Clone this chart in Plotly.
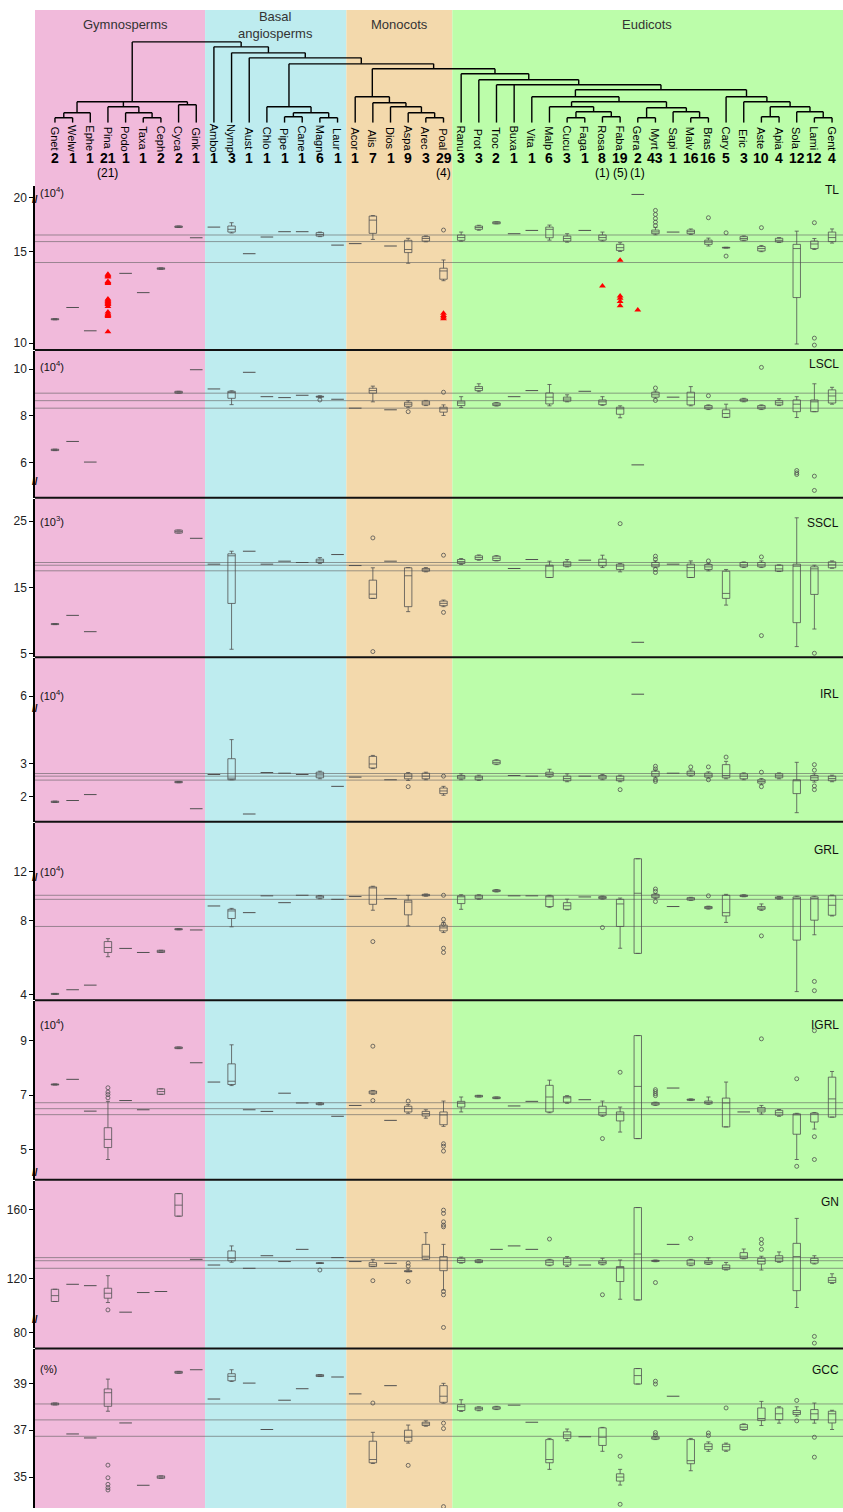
import plotly.graph_objects as go

# ---------------------------------------------------------------- data
TAXA = ["Gnet", "Welw", "Ephe", "Pina", "Podo", "Taxa", "Ceph", "Cyca", "Gink",
        "Ambo", "Nymp", "Aust", "Chlo", "Pipe", "Cane", "Magn", "Laur",
        "Acor", "Alis", "Dios", "Aspa", "Arec", "Poal",
        "Ranu", "Prot", "Troc", "Buxa", "Vita", "Malp", "Cucu", "Faga", "Rosa", "Faba",
        "Gera", "Myrt", "Sapi", "Malv", "Bras", "Cary", "Eric", "Aste", "Apia", "Sola",
        "Lami", "Gent"]
COUNTS = [2, 1, 1, 21, 1, 1, 2, 2, 1,
          1, 3, 1, 1, 1, 1, 6, 1,
          1, 7, 1, 9, 3, 29,
          3, 3, 2, 1, 1, 6, 3, 1, 8, 19, 2, 43, 1, 16, 16, 5, 3, 10, 4, 12, 12, 4]
IR_LOSS = {"Pina": 21, "Poal": 4, "Rosa": 1, "Faba": 5, "Gera": 1}

GROUP_NAMES = ["Gymnosperms", "Basal<br>angiosperms", "Monocots", "Eudicots"]
GROUP_FIRST = ["Gnet", "Ambo", "Acor", "Ranu"]
GROUP_LAST = ["Gink", "Laur", "Poal", "Gent"]
GROUP_COLORS = ["#F1BADB", "#BEECEF", "#F3D9AC", "#BCFDAA"]

# dendrogram: (node, children, height above the leaves)
TREE = [
    ("GW", ["Gnet", "Welw"], 5), ("Gnetales", ["GW", "Ephe"], 10),
    ("TC", ["Taxa", "Ceph"], 5), ("PTC", ["Podo", "TC"], 10), ("Conifers", ["Pina", "PTC"], 16),
    ("CG", ["Cyca", "Gink"], 18), ("Gymno", ["Gnetales", "Conifers", "CG"], 21),
    ("PC", ["Pipe", "Cane"], 6), ("ML", ["Magn", "Laur"], 5), ("PCML", ["PC", "ML"], 10),
    ("Magnoliids", ["Chlo", "PCML"], 16),
    ("AP", ["Arec", "Poal"], 5), ("M3", ["Aspa", "AP"], 10), ("M2", ["Dios", "M3"], 16),
    ("M1", ["Alis", "M2"], 20), ("Monocots", ["Acor", "M1"], 26),
    ("CF", ["Cucu", "Faga"], 5), ("RF", ["Rosa", "Faba"], 6), ("F1", ["CF", "RF"], 11),
    ("Fabids", ["Malp", "F1"], 16),
    ("GM", ["Gera", "Myrt"], 5), ("MB", ["Malv", "Bras"], 5), ("SMB", ["Sapi", "MB"], 11),
    ("Malvids", ["GM", "SMB"], 15),
    ("Rosids", ["Fabids", "Malvids"], 21), ("Superrosids", ["Vita", "Rosids"], 26),
    ("AA", ["Aste", "Apia"], 6), ("LG", ["Lami", "Gent"], 5), ("Lamiids", ["Sola", "LG"], 11),
    ("A1", ["AA", "Lamiids"], 16), ("Asterids", ["Eric", "A1"], 21),
    ("Superasterids", ["Cary", "Asterids"], 26),
    ("Core", ["Superrosids", "Superasterids"], 33), ("E2", ["Troc", "Buxa", "Core"], 38),
    ("E1", ["Prot", "E2"], 43), ("Eudicots", ["Ranu", "E1"], 49),
    ("N4", ["Monocots", "Eudicots"], 54), ("N3", ["Magnoliids", "N4"], 59),
    ("N2", ["Aust", "N3"], 65), ("N1", ["Nymp", "N2"], 70),
    ("Angio", ["Ambo", "N1"], 76), ("Seed", ["Gymno", "Angio"], 81),
]

N = None
# box stats per taxon: (lower whisker, q1, median, q3, upper whisker); float = single genome
TL_BOX = [(11.27, 11.27, 11.30, 11.33, 11.33), 11.94, 10.67, N, 13.80, 12.75,
          (14.02, 14.02, 14.06, 14.10, 14.10), (16.30, 16.30, 16.34, 16.38, 16.38), 15.74,
          16.32, (16.00, 16.05, 16.20, 16.38, 16.56), 14.87, 15.78, 16.07, 16.07,
          (15.80, 15.83, 15.92, 16.02, 16.05), 15.34,
          15.42, (15.65, 15.98, 16.70, 16.92, 16.95), 15.29, (14.35, 14.93, 15.10, 15.60, 15.71),
          (15.52, 15.56, 15.70, 15.80, 15.84), (13.40, 13.48, 13.93, 14.08, 14.53),
          (15.55, 15.60, 15.75, 15.89, 16.05), (16.15, 16.20, 16.30, 16.38, 16.42),
          (16.50, 16.50, 16.55, 16.61, 16.61), 15.96, 16.14, (15.61, 15.74, 16.20, 16.32, 16.43),
          (15.50, 15.56, 15.70, 15.83, 15.96), 16.14, (15.56, 15.61, 15.75, 15.89, 16.05),
          (14.99, 15.05, 15.20, 15.38, 15.47), 20.17, (15.90, 15.96, 16.06, 16.16, 16.30), 16.05,
          (15.92, 15.96, 16.07, 16.16, 16.22), (15.29, 15.38, 15.50, 15.61, 15.72),
          (15.18, 15.18, 15.20, 15.22, 15.22), (15.58, 15.61, 15.70, 15.80, 15.84),
          (14.98, 15.02, 15.15, 15.26, 15.32), (15.48, 15.51, 15.60, 15.71, 15.75),
          (9.95, 12.48, 15.15, 15.38, 16.10), (15.10, 15.15, 15.40, 15.56, 15.70),
          (15.45, 15.53, 15.75, 16.05, 16.22)]
TL_OUT = {"Poal": [16.16], "Myrt": [17.23, 17.01, 16.79, 16.59, 16.41], "Bras": [16.83],
          "Cary": [16.01, 14.74], "Aste": [16.29], "Lami": [16.56, 10.27, 9.89]}
TL_RED = {"Pina": [13.75, 13.70, 13.65, 13.60, 13.35, 13.30, 13.25, 12.40, 12.35, 12.30, 12.25,
                   12.20, 12.15, 12.10, 12.00, 11.70, 11.60, 11.55, 11.50, 11.45, 10.62],
          "Poal": [11.63, 11.50, 11.42, 11.33], "Rosa": [13.11],
          "Faba": [14.51, 12.57, 12.45, 12.27, 12.03], "Gera": [11.81]}
TL_REF = [15.89, 15.53, 14.39]

LSCL_BOX = [(6.52, 6.52, 6.55, 6.58, 6.58), 6.91, 6.03, N, N, N, N,
            (8.97, 8.97, 9.01, 9.05, 9.05), 9.97,
            9.15, (8.48, 8.75, 9.00, 9.05, 9.07), 9.86, 8.82, 8.78, 8.88,
            (8.78, 8.80, 8.82, 8.84, 8.86), 8.71,
            8.33, (8.60, 8.97, 9.08, 9.18, 9.27), 8.26, (8.35, 8.41, 8.50, 8.58, 8.65),
            (8.44, 8.47, 8.55, 8.63, 8.66), (8.02, 8.16, 8.30, 8.37, 8.47),
            (8.36, 8.44, 8.55, 8.63, 8.82), (9.03, 9.08, 9.17, 9.25, 9.37),
            (8.42, 8.44, 8.50, 8.55, 8.57), 8.82, 9.08, (8.43, 8.51, 8.80, 8.98, 9.34),
            (8.60, 8.63, 8.72, 8.80, 8.90), 9.05, (8.45, 8.48, 8.60, 8.68, 8.82),
            (7.92, 8.07, 8.30, 8.37, 8.43), 5.91, (8.76, 8.80, 8.90, 9.01, 9.06), 8.80,
            (8.43, 8.47, 8.80, 9.01, 9.25), (8.27, 8.30, 8.37, 8.44, 8.47),
            (7.93, 7.94, 8.10, 8.26, 8.50), (8.60, 8.63, 8.68, 8.72, 8.75),
            (8.27, 8.30, 8.37, 8.44, 8.47), (8.44, 8.47, 8.56, 8.65, 8.73),
            (7.93, 8.18, 8.50, 8.68, 8.82), (8.18, 8.18, 8.60, 8.68, 9.37),
            (8.50, 8.55, 8.85, 9.11, 9.22)]
LSCL_OUT = {"Magn": [8.68], "Aspa": [8.18], "Poal": [9.01], "Myrt": [9.19, 8.66], "Bras": [8.86],
            "Aste": [10.07], "Sola": [5.67, 5.57, 5.50], "Lami": [5.43, 4.82]}
LSCL_RED = {}
LSCL_REF = [8.97, 8.65, 8.33]

SSCL_BOX = [(9.40, 9.40, 9.48, 9.55, 9.55), 10.79, 8.33, N, N, N, N,
            (23.20, 23.20, 23.42, 23.65, 23.65), 22.41,
            18.51, (5.68, 12.59, 19.77, 20.07, 20.46), 20.46, 18.51, 18.96, 18.76,
            (18.60, 18.76, 19.00, 19.26, 19.50), 19.96,
            18.30, (13.35, 13.35, 13.99, 16.10, 17.96), 18.96, (11.35, 12.10, 16.76, 17.96, 18.00),
            (17.35, 17.45, 17.65, 17.86, 18.00), (12.10, 12.25, 12.60, 12.94, 13.10),
            (18.46, 18.61, 18.90, 19.21, 19.36), (19.10, 19.21, 19.50, 19.77, 19.90),
            (19.00, 19.06, 19.40, 19.71, 19.80), 17.86, 19.21, (16.50, 16.50, 18.20, 18.35, 18.96),
            (18.10, 18.20, 18.50, 18.86, 19.20), 19.11, (18.00, 18.26, 18.80, 19.26, 19.86),
            (17.35, 17.71, 18.20, 18.51, 18.60), 6.73, (18.00, 18.11, 18.40, 18.76, 19.00), 18.51,
            (16.50, 16.50, 18.00, 18.51, 19.00), (17.50, 17.71, 18.10, 18.46, 18.60),
            (12.34, 13.35, 14.10, 17.45, 17.71), (18.00, 18.11, 18.40, 18.76, 18.85),
            (18.00, 18.11, 18.40, 18.76, 19.00), (17.40, 17.45, 17.80, 18.35, 18.40),
            (6.08, 9.69, 18.20, 18.51, 25.50), (8.73, 13.95, 17.80, 18.11, 18.35),
            (17.90, 17.96, 18.40, 18.86, 19.00)]
SSCL_OUT = {"Alis": [22.47, 5.33], "Poal": [19.86, 11.24], "Faba": [24.62],
            "Myrt": [19.71, 19.26, 17.71, 17.26], "Bras": [19.00], "Aste": [19.60, 7.74],
            "Lami": [5.08]}
SSCL_RED = {}
SSCL_REF = [18.76, 18.35, 17.51]

IRL_BOX = [(1.83, 1.83, 1.85, 1.87, 1.87), 1.89, 2.07, N, N, N, N,
           (2.43, 2.43, 2.45, 2.47, 2.47), 1.64,
           2.68, (2.52, 2.52, 2.57, 3.16, 3.74), 1.48, 2.74, 2.72, 2.68,
           (2.55, 2.58, 2.67, 2.75, 2.78), 2.32,
           2.60, (2.86, 2.88, 3.00, 3.23, 3.26), 2.52, (2.50, 2.55, 2.63, 2.70, 2.74),
           (2.52, 2.55, 2.63, 2.72, 2.75), (2.05, 2.10, 2.18, 2.27, 2.32),
           (2.52, 2.55, 2.60, 2.65, 2.70), (2.50, 2.52, 2.58, 2.63, 2.66),
           (2.98, 3.00, 3.05, 3.11, 3.13), 2.65, 2.63, (2.60, 2.63, 2.68, 2.75, 2.84),
           (2.46, 2.49, 2.56, 2.63, 2.70), 2.63, (2.52, 2.55, 2.60, 2.65, 2.68),
           (2.46, 2.49, 2.55, 2.63, 2.66), 6.06, (2.58, 2.63, 2.70, 2.78, 2.82), 2.72,
           (2.63, 2.66, 2.72, 2.78, 2.82), (2.57, 2.60, 2.66, 2.72, 2.76),
           (2.55, 2.58, 2.65, 2.98, 3.08), (2.52, 2.55, 2.63, 2.70, 2.73),
           (2.38, 2.42, 2.47, 2.52, 2.56), (2.55, 2.58, 2.64, 2.70, 2.73),
           (1.52, 2.10, 2.50, 2.52, 3.05), (2.45, 2.50, 2.58, 2.65, 2.70),
           (2.46, 2.49, 2.56, 2.63, 2.66)]
IRL_OUT = {"Aspa": [2.31], "Poal": [2.63], "Faba": [2.22], "Myrt": [2.93, 2.85, 2.52, 2.47],
           "Malv": [2.91], "Bras": [2.91, 2.52], "Cary": [3.21], "Aste": [2.75, 2.31],
           "Lami": [2.98, 2.81, 2.33, 2.22]}
IRL_RED = {}
IRL_REF = [2.71, 2.63, 2.51]

GRL_BOX = [(4.00, 4.00, 4.02, 4.05, 4.05), 4.25, 4.50, (6.04, 6.27, 6.54, 6.86, 7.02), 6.49, 6.27,
           (6.27, 6.27, 6.33, 6.39, 6.39), (7.50, 7.50, 7.53, 7.56, 7.56), 7.49,
           8.79, (7.66, 8.11, 8.52, 8.61, 8.66), 8.43, 9.34, 8.97, 9.37,
           (9.18, 9.22, 9.30, 9.34, 9.36), 9.15,
           9.30, (8.56, 8.88, 9.80, 9.82, 9.86), 9.19, (7.71, 8.31, 9.00, 9.10, 9.37),
           (9.32, 9.34, 9.38, 9.42, 9.44), (7.35, 7.44, 7.60, 7.75, 7.90),
           (8.61, 8.92, 9.30, 9.34, 9.40), (9.15, 9.19, 9.28, 9.37, 9.40),
           (9.55, 9.57, 9.62, 9.66, 9.68), 9.34, 9.34, (8.72, 8.76, 9.30, 9.34, 9.37),
           (8.58, 8.61, 8.80, 8.97, 9.16), 9.28, (9.16, 9.19, 9.25, 9.30, 9.33),
           (6.50, 7.68, 8.90, 9.15, 9.22), (6.22, 6.22, 9.48, 12.70, 12.70),
           (9.20, 9.24, 9.33, 9.42, 9.46), 8.76,
           (9.09, 9.11, 9.18, 9.24, 9.26), (8.62, 8.65, 8.70, 8.76, 8.78),
           (7.90, 8.25, 8.43, 9.37, 9.42), (9.29, 9.30, 9.34, 9.38, 9.40),
           (8.55, 8.61, 8.68, 8.76, 8.90), (9.16, 9.19, 9.24, 9.28, 9.30),
           (4.15, 6.94, 9.20, 9.28, 9.32), (7.23, 8.02, 9.20, 9.28, 9.32),
           (8.25, 8.29, 8.83, 9.34, 9.38)]
GRL_OUT = {"Alis": [6.86], "Poal": [9.37, 8.07, 7.80, 6.50, 6.27], "Rosa": [7.62],
           "Myrt": [9.71, 9.58, 9.03], "Bras": [9.34], "Aste": [7.17], "Lami": [4.70, 4.20]}
GRL_RED = {}
GRL_REF = [9.37, 9.15, 7.68]

IGRL_BOX = [(7.37, 7.37, 7.39, 7.41, 7.41), 7.58, 6.41, (4.63, 5.07, 5.37, 5.80, 6.77), 6.80, 6.46,
            (7.03, 7.03, 7.13, 7.23, 7.23), (8.71, 8.71, 8.74, 8.77, 8.77), 8.19,
            7.48, (7.35, 7.39, 7.51, 8.15, 8.85), 6.46, 6.40, 7.07, 6.71,
            (6.64, 6.65, 6.68, 6.71, 6.72), 6.22,
            6.62, (7.03, 7.05, 7.11, 7.15, 7.17), 6.07, (6.33, 6.38, 6.50, 6.59, 6.65),
            (6.15, 6.23, 6.32, 6.40, 6.46), (5.85, 5.91, 6.27, 6.38, 6.78),
            (6.38, 6.56, 6.70, 6.77, 6.93), (6.93, 6.93, 6.96, 6.99, 6.99),
            (6.87, 6.87, 6.90, 6.93, 6.93), 6.60, 6.77, (6.35, 6.38, 6.93, 7.36, 7.55),
            (6.70, 6.74, 6.90, 6.95, 6.98), 6.83, (6.22, 6.26, 6.35, 6.59, 6.78),
            (5.64, 6.05, 6.30, 6.38, 6.56), (5.40, 5.40, 7.32, 9.19, 9.19),
            (6.62, 6.64, 6.68, 6.72, 6.74), 7.26,
            (6.80, 6.81, 6.83, 6.85, 6.86), (6.66, 6.68, 6.73, 6.78, 6.93),
            (5.83, 5.83, 6.71, 6.89, 7.48), 6.38,
            (6.30, 6.38, 6.45, 6.54, 6.62), (6.22, 6.26, 6.35, 6.44, 6.47),
            (4.63, 5.56, 6.28, 6.31, 6.33), (5.75, 6.01, 6.30, 6.34, 6.36),
            (6.19, 6.19, 6.86, 7.66, 7.87)]
IGRL_OUT = {"Pina": [7.27, 7.11, 7.02, 6.90], "Alis": [8.80, 6.80], "Aspa": [6.78],
            "Poal": [5.21, 5.12, 4.94], "Rosa": [5.40], "Faba": [7.84],
            "Myrt": [7.20, 7.13, 7.05, 6.98], "Aste": [9.07], "Sola": [7.60, 4.38],
            "Lami": [9.37, 5.47, 4.63]}
IGRL_RED = {}
IGRL_REF = [6.72, 6.50, 6.28]

GN_BOX = [(106.7, 106.7, 110.1, 113.8, 113.8), 116.7, 115.9, (106.1, 108.6, 111.5, 114.4, 121.7),
          100.5, 111.9, 112.5, (156.3, 156.3, 162.7, 169.4, 169.4), 131.2,
          127.9, (129.5, 130.3, 131.9, 136.1, 139.0), 126.0, 133.3, 129.9, 137.0,
          (128.8, 128.8, 129.0, 129.2, 129.2), 132.2,
          129.9, (127.0, 127.0, 128.0, 129.3, 131.2), 128.9, (124.0, 124.0, 124.3, 124.6, 125.5),
          (131.2, 131.2, 133.0, 139.9, 146.7), (113.4, 124.6, 130.7, 132.8, 139.9),
          (129.0, 129.4, 130.6, 131.8, 132.5), (129.2, 129.4, 130.0, 130.8, 131.0),
          137.0, 139.0, 137.0, (127.5, 127.9, 129.5, 130.8, 131.2),
          (127.0, 127.9, 129.5, 131.8, 132.8), 127.9, (128.0, 128.5, 129.4, 130.3, 131.8),
          (108.0, 118.3, 126.5, 127.0, 130.8), (107.6, 107.6, 134.3, 161.3, 161.3),
          (129.8, 130.0, 130.3, 130.6, 130.8), 139.9,
          (127.5, 127.9, 129.0, 130.8, 131.2), (128.2, 128.5, 129.4, 130.3, 132.0),
          (125.0, 125.4, 126.5, 127.9, 129.4), (131.5, 131.8, 133.0, 135.1, 137.2),
          (125.0, 128.5, 130.0, 131.8, 133.0), (129.5, 129.9, 131.5, 133.3, 135.5),
          (103.2, 113.0, 132.8, 140.5, 155.0), (128.5, 129.0, 130.5, 131.8, 133.3),
          (117.2, 117.7, 119.0, 120.6, 122.8)]
GN_OUT = {"Pina": [101.8], "Magn": [125.0], "Alis": [118.8], "Aspa": [129.0, 127.3, 118.3],
          "Poal": [159.8, 157.9, 153.0, 151.1, 150.1, 112.5, 110.6, 82.9], "Malp": [143.0],
          "Rosa": [110.6], "Myrt": [117.7], "Malv": [143.4], "Aste": [142.8, 140.4, 137.0],
          "Lami": [77.7, 73.8]}
GN_RED = {}
GN_REF = [132.2, 130.4, 126.0]

GCC_BOX = [(38.08, 38.08, 38.12, 38.16, 38.16), 36.84, 36.67, (37.81, 38.02, 38.60, 38.76, 39.18),
           37.31, 34.65, (34.95, 34.95, 35.00, 35.05, 35.05), (39.43, 39.43, 39.47, 39.51, 39.51),
           39.58,
           38.33, (39.08, 39.11, 39.30, 39.41, 39.58), 39.01, 37.03, 38.28, 38.77,
           (39.29, 39.29, 39.33, 39.37, 39.37), 39.27,
           38.55, (35.58, 35.61, 35.75, 36.53, 36.91), 38.90, (36.45, 36.53, 36.70, 37.00, 37.22),
           (37.17, 37.20, 37.27, 37.34, 37.40), (38.15, 38.19, 38.45, 38.90, 39.00),
           (37.80, 37.84, 38.00, 38.09, 38.30), (37.83, 37.86, 37.92, 37.98, 38.00),
           (37.88, 37.90, 37.95, 38.00, 38.02), 38.07, 37.34, (35.33, 35.61, 35.75, 36.60, 36.65),
           (36.55, 36.65, 36.80, 36.93, 37.05), 36.72, (36.10, 36.35, 36.70, 37.10, 37.12),
           (34.66, 34.83, 35.00, 35.14, 35.33), (38.97, 38.97, 39.33, 39.63, 39.63),
           (36.60, 36.62, 36.67, 36.72, 36.75), 38.45,
           (35.27, 35.57, 35.70, 36.60, 36.65), (36.10, 36.18, 36.30, 36.42, 36.50),
           (36.10, 36.15, 36.30, 36.40, 36.45), (37.00, 37.03, 37.13, 37.24, 37.27),
           (37.20, 37.41, 37.50, 37.95, 38.23), (37.30, 37.45, 37.70, 37.95, 38.00),
           (37.60, 37.67, 37.75, 37.84, 38.00), (37.30, 37.45, 37.70, 37.88, 38.16),
           (37.03, 37.31, 37.70, 37.81, 37.85)]
GCC_OUT = {"Pina": [35.51, 34.97, 34.69, 34.55, 34.45], "Alis": [38.16], "Aspa": [35.50],
           "Poal": [37.30, 37.07, 33.74], "Faba": [35.89, 33.84],
           "Myrt": [36.90, 36.80, 39.09, 38.97], "Bras": [36.88, 36.77], "Cary": [37.95],
           "Sola": [38.27, 37.40], "Lami": [36.70, 35.85]}
GCC_RED = {}
GCC_REF = [38.12, 37.44, 36.74]

PANEL_NAMES = ["TL", "LSCL", "SSCL", "IRL", "GRL", "IGRL", "GN", "GCC"]
PANEL_UNITS = ["(10<sup>4</sup>)", "(10<sup>4</sup>)", "(10<sup>3</sup>)", "(10<sup>4</sup>)",
               "(10<sup>4</sup>)", "(10<sup>4</sup>)", "", "(%)"]
PANEL_TICKS = [[10, 15, 20], [6, 8, 10], [5, 15, 25], [2, 3, 6], [4, 8, 12], [5, 7, 9],
               [80, 120, 160], [35, 37, 39]]
PANEL_DATA = [(TL_BOX, TL_OUT, TL_RED, TL_REF), (LSCL_BOX, LSCL_OUT, LSCL_RED, LSCL_REF),
              (SSCL_BOX, SSCL_OUT, SSCL_RED, SSCL_REF), (IRL_BOX, IRL_OUT, IRL_RED, IRL_REF),
              (GRL_BOX, GRL_OUT, GRL_RED, GRL_REF), (IGRL_BOX, IGRL_OUT, IGRL_RED, IGRL_REF),
              (GN_BOX, GN_OUT, GN_RED, GN_REF), (GCC_BOX, GCC_OUT, GCC_RED, GCC_REF)]

# ---------------------------------------------------------------- layout geometry (pixels)
W, H = 843, 1512
X_RANGE = [-0.13, 45.62]
# top px, bottom px, (reference value, its px), px per unit, axis-break, break mark px, label px, unit px
GEOM = [
    dict(top=186, bot=351, ref=(15, 252), ppu=18.4, brk=("ge", 19, -2.07), mark=200, lab=191, unit=193),
    dict(top=352, bot=499, ref=(8, 417), ppu=23.5, brk=None, mark=483, lab=365, unit=367),
    dict(top=500, bot=659, ref=(15, 589), ppu=6.65, brk=None, mark=None, lab=524, unit=522),
    dict(top=660, bot=824, ref=(3, 766), ppu=33.0, brk=("ge", 5, -0.94), mark=710, lab=696, unit=697),
    dict(top=825, bot=1003, ref=(8, 923), ppu=18.5, brk=("ge", 11, -1.35), mark=880, lab=852, unit=873),
    dict(top=1004, bot=1183, ref=(7, 1098), ppu=27.25, brk=None, mark=1176, lab=1028, unit=1027),
    dict(top=1184, bot=1352, ref=(120, 1282), ppu=1.725, brk=("le", 90, 8.7), mark=1323, lab=1205, unit=None),
    dict(top=1353, bot=1512, ref=(37, 1434), ppu=23.5, brk=None, mark=None, lab=1374, unit=1373),
]
SEPARATORS = [351, 499, 659, 824, 1003, 1183, 1352]


def yp(px):
    return 1 - px / H


def disp(v, brk):
    if brk is None:
        return v
    op, thr, shift = brk
    if (op == "ge" and v >= thr) or (op == "le" and v <= thr):
        return v + shift
    return v


FONT = "Liberation Sans, Arial, sans-serif"
BOX_COL = "#505050"
pos = {t: i + 1 for i, t in enumerate(TAXA)}

fig = go.Figure()
shapes = []
annotations = []

# background bands
for name, first, last, col in zip(GROUP_NAMES, GROUP_FIRST, GROUP_LAST, GROUP_COLORS):
    x0 = X_RANGE[0] if first == TAXA[0] else pos[first] - 0.5
    x1 = X_RANGE[1] if last == TAXA[-1] else pos[last] + 0.5
    shapes.append(dict(type="rect", xref="x", yref="paper", x0=x0, x1=x1, y0=0, y1=yp(10),
                       fillcolor=col, line=dict(width=0), layer="below"))
    annotations.append(dict(x=(max(x0, pos[first] - 0.5) + min(x1, pos[last] + 0.5)) / 2,
                            xref="x", yref="paper", y=yp(25), text=name, showarrow=False,
                            font=dict(size=13, color="#333", family=FONT), yanchor="middle"))

# panels
layout_axes = {}
for k, (pname, unit, ticks, data, g) in enumerate(zip(PANEL_NAMES, PANEL_UNITS, PANEL_TICKS,
                                                       PANEL_DATA, GEOM)):
    box, out, red, refs = data
    yname = "y" if k == 0 else f"y{k + 1}"
    akey = "yaxis" if k == 0 else f"yaxis{k + 1}"
    rv, rpx = g["ref"]
    ytop = rv + (rpx - g["top"]) / g["ppu"]
    ybot = rv - (g["bot"] - rpx) / g["ppu"]
    brk = g["brk"]
    layout_axes[akey] = dict(domain=[yp(g["bot"]), yp(g["top"])], range=[ybot, ytop], anchor="x",
                             showline=True, linecolor="black", linewidth=1.5, ticks="outside",
                             ticklen=4, tickcolor="black", tickvals=[disp(t, brk) for t in ticks],
                             ticktext=[str(t) for t in ticks], showgrid=False, zeroline=False,
                             tickfont=dict(size=12, color="#222", family=FONT), fixedrange=True)
    bx, q1, md, q3, lo, hi = [], [], [], [], [], []
    sx, sy = [], []
    for t, b in zip(TAXA, box):
        if b is None:
            continue
        if isinstance(b, tuple):
            d = [disp(v, brk) for v in b]
            bx.append(pos[t]); lo.append(d[0]); q1.append(d[1]); md.append(d[2])
            q3.append(d[3]); hi.append(d[4])
        else:
            sx.append(pos[t]); sy.append(disp(b, brk))
    fig.add_trace(go.Box(x=bx, q1=q1, median=md, q3=q3, lowerfence=lo, upperfence=hi,
                         xaxis="x", yaxis=yname, width=0.42, whiskerwidth=0.55,
                         line=dict(color=BOX_COL, width=0.8), fillcolor="rgba(0,0,0,0)",
                         boxpoints=False, hoverinfo="skip", showlegend=False))
    fig.add_trace(go.Scatter(x=sx, y=sy, mode="markers", xaxis="x", yaxis=yname,
                             marker=dict(symbol="line-ew-open", size=9, color=BOX_COL,
                                         line=dict(width=1, color=BOX_COL)),
                             hoverinfo="skip", showlegend=False))
    ox, oy = [], []
    for t, vals in out.items():
        for v in vals:
            ox.append(pos[t]); oy.append(disp(v, brk))
    fig.add_trace(go.Scatter(x=ox, y=oy, mode="markers", xaxis="x", yaxis=yname,
                             marker=dict(symbol="circle-open", size=4, color=BOX_COL,
                                         line=dict(width=0.8, color=BOX_COL)),
                             hoverinfo="skip", showlegend=False))
    rx, ry = [], []
    for t, vals in red.items():
        for v in vals:
            rx.append(pos[t]); ry.append(disp(v, brk))
    if rx:
        fig.add_trace(go.Scatter(x=rx, y=ry, mode="markers", xaxis="x", yaxis=yname,
                                 marker=dict(symbol="triangle-up", size=6, color="#FF0000"),
                                 hoverinfo="skip", showlegend=False))
    for v in refs:
        shapes.append(dict(type="line", xref="paper", x0=0, x1=1, yref=yname, y0=v, y1=v,
                           line=dict(color="rgba(95,95,95,0.6)", width=1), layer="below"))
    annotations.append(dict(xref="paper", x=1, xanchor="right", xshift=-2, yref="paper",
                            y=yp(g["lab"]), yanchor="middle", text=pname, showarrow=False,
                            font=dict(size=12, color="#111", family=FONT)))
    if unit and g["unit"]:
        annotations.append(dict(xref="paper", x=0, xanchor="left", xshift=3, yref="paper",
                                y=yp(g["unit"]), yanchor="middle", text=unit, showarrow=False,
                                font=dict(size=11, color="#111", family=FONT)))
    if g["mark"]:
        annotations.append(dict(xref="paper", x=0, xanchor="center", yref="paper",
                                y=yp(g["mark"]), yanchor="middle", text="<b>//</b>",
                                showarrow=False, font=dict(size=10, color="black", family=FONT)))

for px in SEPARATORS:
    shapes.append(dict(type="line", xref="paper", x0=0, x1=1, yref="paper", y0=yp(px), y1=yp(px),
                       line=dict(color="#111", width=2), layer="above"))

# dendrogram
height = {t: 0 for t in TAXA}
xpos = dict(pos)
lx, ly = [], []
for node, kids, h in TREE:
    kx = [xpos[c] for c in kids]
    xpos[node] = (min(kx) + max(kx)) / 2
    height[node] = h
    lx += [min(kx), max(kx), None]
    ly += [h, h, None]
    for c in kids:
        lx += [xpos[c], xpos[c], None]
        ly += [height[c], h, None]
fig.add_trace(go.Scatter(x=lx, y=ly, mode="lines", xaxis="x", yaxis="y9",
                         line=dict(color="black", width=1.4), hoverinfo="skip", showlegend=False))
layout_axes["yaxis9"] = dict(domain=[yp(123), yp(40)], range=[0, 83], anchor="x", visible=False,
                             fixedrange=True)

# taxon labels and counts
for t, c in zip(TAXA, COUNTS):
    annotations.append(dict(x=pos[t], xref="x", y=yp(139), yref="paper", text=t, textangle=90,
                            showarrow=False, xanchor="center", yanchor="middle",
                            font=dict(size=11, color="black", family=FONT)))
    annotations.append(dict(x=pos[t], xref="x", y=yp(158), yref="paper", text=f"<b>{c}</b>",
                            showarrow=False, xanchor="center", yanchor="middle",
                            font=dict(size=14, color="black", family=FONT)))
    if t in IR_LOSS:
        annotations.append(dict(x=pos[t], xref="x", y=yp(173), yref="paper",
                                text=f"({IR_LOSS[t]})", showarrow=False, xanchor="center",
                                yanchor="middle", font=dict(size=12, color="black", family=FONT)))

fig.update_layout(
    width=W, height=H, margin=dict(l=35, r=0, t=0, b=0),
    paper_bgcolor="white", plot_bgcolor="white",
    xaxis=dict(range=X_RANGE, visible=False, domain=[0, 1], anchor="y", fixedrange=True),
    shapes=shapes, annotations=annotations, showlegend=False,
    font=dict(family=FONT), boxmode="overlay",
    **layout_axes,
)

fig.write_html("out.html", config={"displayModeBar": False},
               post_script="document.body.style.margin='0';")
